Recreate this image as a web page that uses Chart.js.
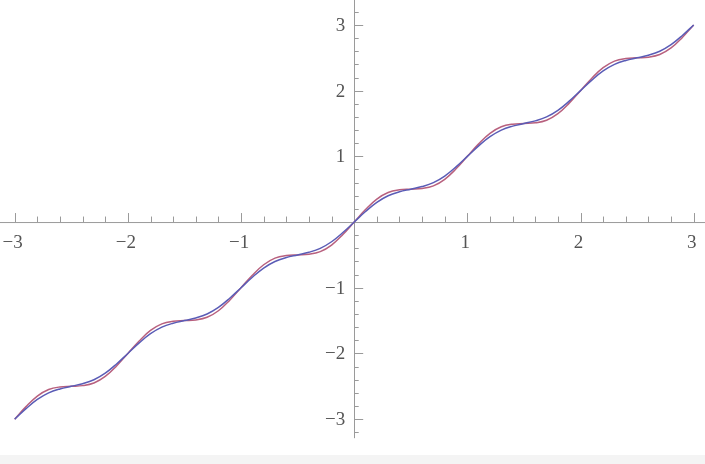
<!DOCTYPE html>
<html><head><meta charset="utf-8">
<script src="https://cdn.jsdelivr.net/npm/chart.js@4"></script>
<style>
html,body{margin:0;padding:0;background:#f4f4f4;}
#wrap{width:705px;height:455px;background:#fff;position:relative;}
</style>
</head><body>
<div id="wrap"><canvas id="c"></canvas></div>
<script>
const xValues = [
 -3.0,-2.9,-2.8,-2.7,-2.6,-2.5,-2.4,-2.3,-2.2,-2.1,
 -2.0,-1.9,-1.8,-1.7,-1.6,-1.5,-1.4,-1.3,-1.2,-1.1,
 -1.0,-0.9,-0.8,-0.7,-0.6,-0.5,-0.4,-0.3,-0.2,-0.1,
  0.0, 0.1, 0.2, 0.3, 0.4, 0.5, 0.6, 0.7, 0.8, 0.9,
  1.0, 1.1, 1.2, 1.3, 1.4, 1.5, 1.6, 1.7, 1.8, 1.9,
  2.0, 2.1, 2.2, 2.3, 2.4, 2.5, 2.6, 2.7, 2.8, 2.9,
  3.0];
const blueValues = [
 -3.00,-2.84,-2.70,-2.60,-2.54,-2.50,-2.46,-2.40,-2.30,-2.16,
 -2.00,-1.84,-1.70,-1.60,-1.54,-1.50,-1.46,-1.40,-1.30,-1.16,
 -1.00,-0.84,-0.70,-0.60,-0.54,-0.50,-0.46,-0.40,-0.30,-0.16,
  0.00, 0.16, 0.30, 0.40, 0.46, 0.50, 0.54, 0.60, 0.70, 0.84,
  1.00, 1.16, 1.30, 1.40, 1.46, 1.50, 1.54, 1.60, 1.70, 1.84,
  2.00, 2.16, 2.30, 2.40, 2.46, 2.50, 2.54, 2.60, 2.70, 2.84,
  3.00];
const redValues = [
 -3.00,-2.81,-2.65,-2.55,-2.51,-2.50,-2.49,-2.45,-2.35,-2.19,
 -2.00,-1.81,-1.65,-1.55,-1.51,-1.50,-1.49,-1.45,-1.35,-1.19,
 -1.00,-0.81,-0.65,-0.55,-0.51,-0.50,-0.49,-0.45,-0.35,-0.19,
  0.00, 0.19, 0.35, 0.45, 0.49, 0.50, 0.51, 0.55, 0.65, 0.81,
  1.00, 1.19, 1.35, 1.45, 1.49, 1.50, 1.51, 1.55, 1.65, 1.81,
  2.00, 2.19, 2.35, 2.45, 2.49, 2.50, 2.51, 2.55, 2.65, 2.81,
  3.00];
const xTickValues = [-3,-2,-1,1,2,3];
const xTickLabels = ['\u22123','\u22122','\u22121','1','2','3'];
const yTickValues = [3,2,1,-1,-2,-3];
const yTickLabels = ['3','2','1','\u22121','\u22122','\u22123'];

const toPts = ys => xValues.map((x,i)=>({x:x,y:ys[i]}));

const axesPlugin = {
  id:'mmaAxes',
  beforeDatasetsDraw(chart){
    const ctx = chart.ctx, xs = chart.scales.x, ys = chart.scales.y;
    const x0 = xs.getPixelForValue(0), y0 = ys.getPixelForValue(0);
    ctx.save();
    ctx.strokeStyle = '#9a9a9a';
    ctx.lineWidth = 1;
    ctx.beginPath();
    ctx.moveTo(0, y0+0.5); ctx.lineTo(chart.width, y0+0.5);
    ctx.moveTo(Math.round(x0)+0.5, 0); ctx.lineTo(Math.round(x0)+0.5, ys.getPixelForValue(-3.29));
    ctx.stroke();
    ctx.beginPath();
    for (let k=-15;k<=15;k++){
      if (k===0) continue;
      const v = k/5, px = Math.round(xs.getPixelForValue(v))+0.5;
      const len = (k%5===0) ? 9 : 5.5;
      ctx.moveTo(px, y0); ctx.lineTo(px, y0-len);
    }
    for (let k=-16;k<=16;k++){
      if (k===0) continue;
      const v = k/5, py = Math.round(ys.getPixelForValue(v))+0.5;
      const len = (k%5===0) ? 9 : 4.5;
      ctx.moveTo(x0, py); ctx.lineTo(x0+len, py);
    }
    ctx.stroke();
    ctx.fillStyle = '#555';
    ctx.font = '19px "Liberation Serif", serif';
    ctx.textAlign = 'center'; ctx.textBaseline = 'middle';
    xTickValues.forEach((v,i)=>{
      ctx.fillText(xTickLabels[i], xs.getPixelForValue(v)-2, y0+21);
    });
    ctx.textAlign = 'right';
    yTickValues.forEach((v,i)=>{
      ctx.fillText(yTickLabels[i], x0-9, ys.getPixelForValue(v)+1);
    });
    ctx.restore();
  }
};

new Chart(document.getElementById('c'), {
  type:'line',
  data:{
    datasets:[
      {data:toPts(blueValues), borderColor:'#5a5cb6', borderWidth:1.5, pointRadius:0, tension:0.4, fill:false},
      {data:toPts(redValues), borderColor:'#b8607e', borderWidth:1.5, pointRadius:0, tension:0.4, fill:false}
    ]
  },
  options:{
    responsive:true, maintainAspectRatio:false, animation:false,
    layout:{padding:0},
    plugins:{legend:{display:false}, tooltip:{enabled:false}},
    scales:{
      x:{type:'linear', min:-3.13, max:3.10, display:false},
      y:{type:'linear', min:-3.546, max:3.38, display:false}
    }
  },
  plugins:[axesPlugin]
});
</script>
</body></html>
